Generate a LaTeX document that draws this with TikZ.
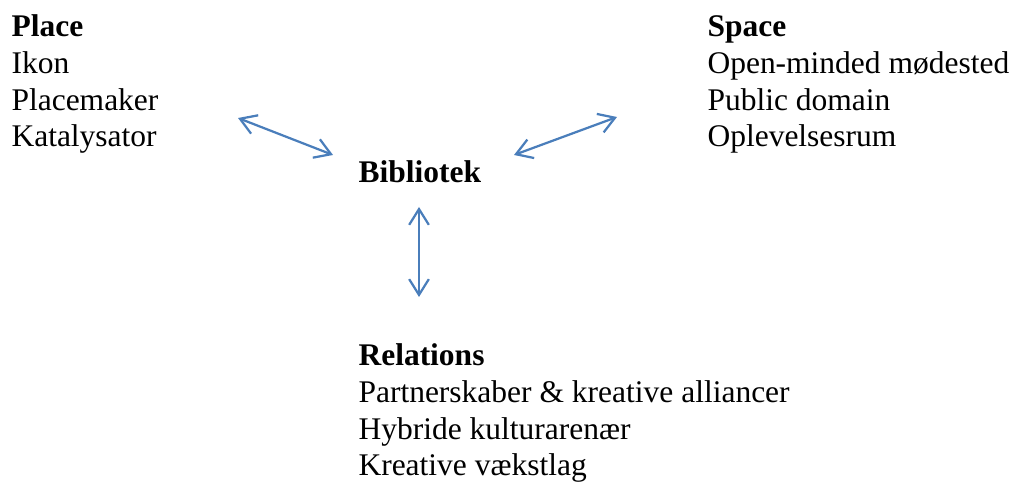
\documentclass[tikz,border=0pt]{standalone}
\usepackage{fontspec}
\setmainfont{Liberation Serif}
\usetikzlibrary{arrows.meta}
\definecolor{pilblaa}{RGB}{74,126,187}
\tikzset{
	blok/.style={align=left, anchor=base west, inner sep=0pt, font=\fontsize{12}{14}\selectfont},
	pil/.style={draw=pilblaa, line width=0.85pt, {Straight Barb[length=6pt,width=7.5pt]}-{Straight Barb[length=6pt,width=7.5pt]}}
}
\begin{document}
\begin{tikzpicture}[x=0.381pt,y=-0.381pt]
		\useasboundingbox (0,0) rectangle (1014,482);
		% base anchor sits on the last line
		\draw (11,147) node[blok](place){\textbf{Place}\\Ikon\\Placemaker\\Katalysator};
		\draw (707,147) node[blok](space){\textbf{Space}\\Open-minded mødested\\Public domain\\Oplevelsesrum};
		\draw (358,183) node[blok](bib){\textbf{Bibliotek}};
		\draw (358,476) node[blok](rel){\textbf{Relations}\\Partnerskaber \& kreative alliancer\\Hybride kulturarenær\\Kreative vækstlag};
		\coordinate (p-1) at (238,118); \coordinate (b-1) at (333,155);
		\coordinate (s-1) at (617,117); \coordinate (b-2) at (514,155);
		\coordinate (b-3) at (419,207); \coordinate (r-1) at (419,297);
		\draw[pil] (p-1) -- (b-1);
		\draw[pil] (b-2) -- (s-1);
		\draw[pil] (b-3) -- (r-1);
	\end{tikzpicture}
\end{document}
